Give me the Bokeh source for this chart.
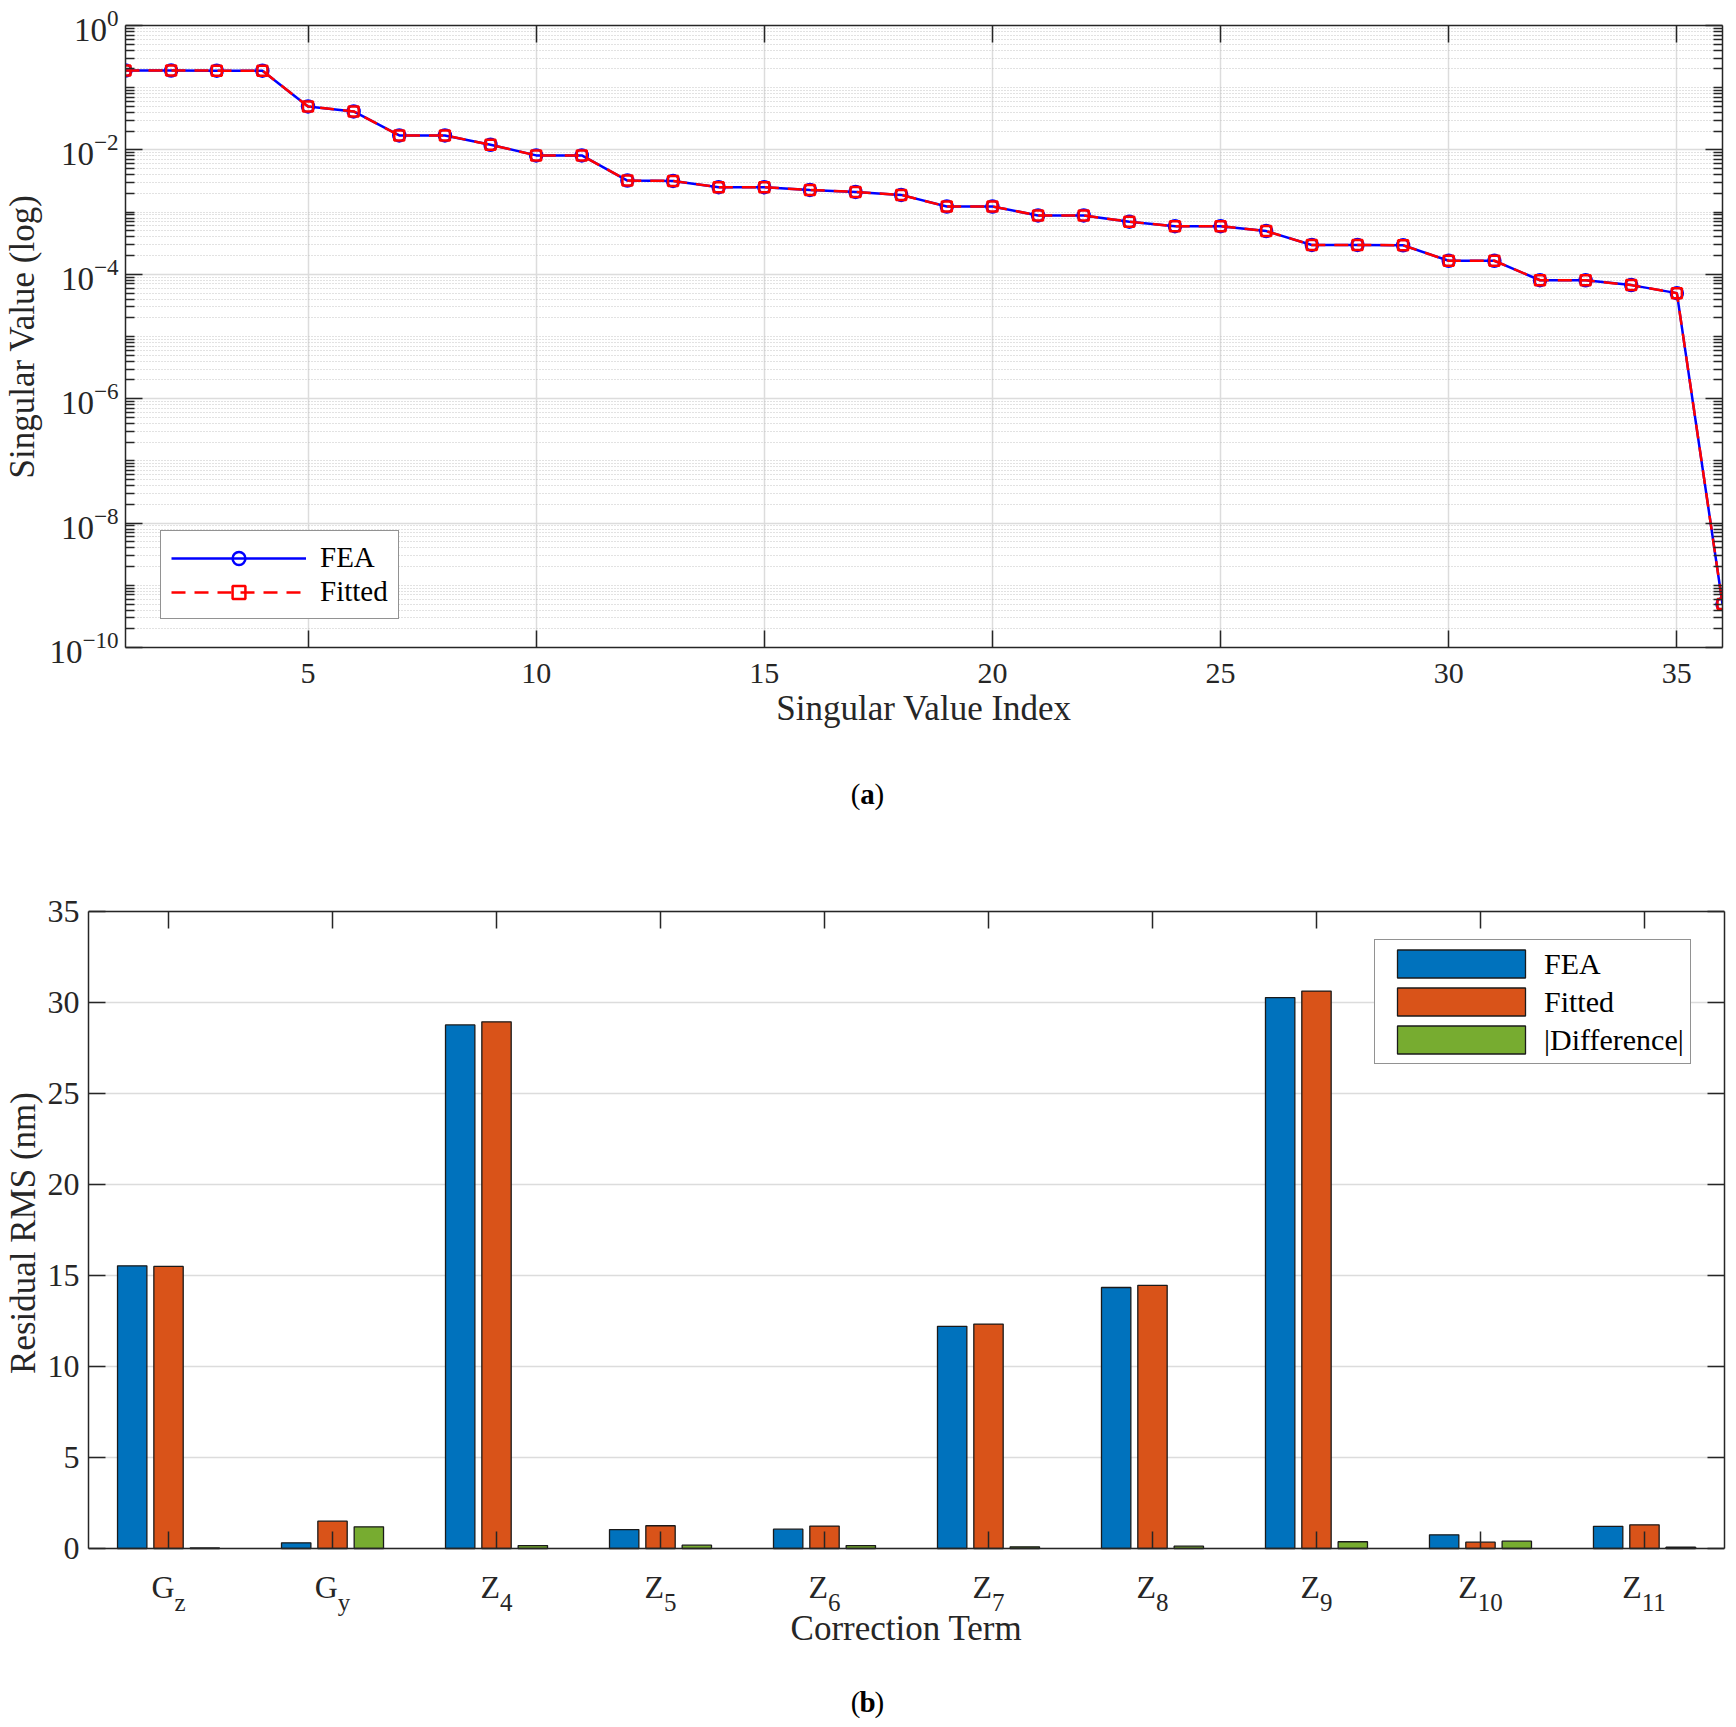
import numpy as np
from bokeh.plotting import figure
from bokeh.models import (Range1d, FixedTicker, LinearAxis, LogAxis, Legend,
                          LegendItem, ColumnDataSource)
from bokeh.core.properties import value
from bokeh.embed import file_html
from bokeh.resources import INLINE

# ---------------- data (a) ----------------
sv_index = list(range(1, 37))
sv_fea = [0.189, 0.189, 0.188, 0.188, 0.0500, 0.0416, 0.0171, 0.0171, 0.0121,
          0.00816, 0.00816, 0.00321, 0.00317, 0.00251, 0.00251, 0.00227,
          0.00211, 0.00189, 0.00123, 0.00123, 0.000884, 0.000884, 0.000701,
          0.000593, 0.000593, 0.000495, 0.000296, 0.000296, 0.000293,
          0.000165, 0.000165, 8.03e-5, 8.0e-5, 6.7e-5, 4.98e-5, 5.0e-10]
sv_fitted = [0.189, 0.189, 0.188, 0.188, 0.0500, 0.0416, 0.0171, 0.0171, 0.0121,
             0.00816, 0.00816, 0.00321, 0.00317, 0.00251, 0.00251, 0.00227,
             0.00211, 0.00189, 0.00123, 0.00123, 0.000884, 0.000884, 0.000701,
             0.000593, 0.000593, 0.000495, 0.000296, 0.000296, 0.000293,
             0.000165, 0.000165, 8.03e-5, 8.0e-5, 6.7e-5, 4.98e-5, 5.0e-10]
sv_xticks = [5, 10, 15, 20, 25, 30, 35]
sv_yticks = [1e-10, 1e-8, 1e-6, 1e-4, 1e-2, 1.0]

# ---------------- data (b) ----------------
term_main = ["G", "G", "Z", "Z", "Z", "Z", "Z", "Z", "Z", "Z"]
term_sub = ["z", "y", "4", "5", "6", "7", "8", "9", "10", "11"]
rms_fea = [15.53, 0.31, 28.77, 1.04, 1.06, 12.21, 14.34, 30.27, 0.75, 1.22]
rms_fitted = [15.50, 1.50, 28.94, 1.25, 1.23, 12.33, 14.46, 30.63, 0.35, 1.30]
rms_diff = [0.03, 1.19, 0.16, 0.18, 0.16, 0.09, 0.13, 0.37, 0.40, 0.07]
rms_yticks = [0, 5, 10, 15, 20, 25, 30, 35]
RMS_MIN, RMS_MAX = 0, 35

FONT = "Liberation Serif"
TXT = "#262626"
AX = "#262626"


def style_axis(ax, labels=True, size="30px"):
    ax.axis_line_color = AX
    ax.axis_line_width = 1.5
    ax.major_tick_line_color = AX
    ax.major_tick_line_width = 1.5
    ax.major_tick_in = 17
    ax.major_tick_out = 0
    ax.minor_tick_line_color = AX
    ax.minor_tick_line_width = 1.3
    ax.minor_tick_in = 9
    ax.minor_tick_out = 0
    ax.major_label_text_font = FONT
    ax.major_label_text_font_size = size
    ax.major_label_text_color = TXT
    ax.axis_label_text_font = FONT
    ax.axis_label_text_font_size = "35px"
    ax.axis_label_text_font_style = "normal"
    ax.axis_label_text_color = TXT
    if not labels:
        ax.major_label_text_color = None
        ax.major_label_text_font_size = "1px"
        ax.major_label_standoff = 0


# minor ticks for the log axis (2..9 x 10^n, plus the odd decades)
minor_log = []
for e in range(-10, 0):
    for k in range(1, 10):
        if k == 1 and e % 2 == 0:
            continue
        minor_log.append(k * 10.0 ** e)

# ================= figure (a) =================
P1_BOTTOM = 96
p1 = figure(frame_width=1597, frame_height=622, title=None,
            x_range=Range1d(1, 36), y_range=Range1d(1e-10, 1),
            y_axis_type="log", output_backend="svg", toolbar_location=None,
            min_border_left=124, min_border_right=10, min_border_top=25,
            min_border_bottom=P1_BOTTOM)
p1.outline_line_color = None
p1.background_fill_color = "white"
p1.border_fill_color = "white"

xt1 = FixedTicker(ticks=sv_xticks)
yt1 = FixedTicker(ticks=sv_yticks, minor_ticks=minor_log)
p1.xaxis[0].ticker = xt1
p1.yaxis[0].ticker = yt1
style_axis(p1.xaxis[0])
style_axis(p1.yaxis[0], size="33px")
p1.xaxis[0].minor_tick_line_color = None
p1.xaxis[0].major_label_standoff = 16
p1.xaxis[0].axis_label = "Singular Value Index"
p1.xaxis[0].axis_label_standoff = 3
p1.yaxis[0].major_label_standoff = 7
p1.yaxis[0].axis_label = "Singular Value (log)"
p1.yaxis[0].axis_label_standoff = 4

top1 = LinearAxis(ticker=xt1)
style_axis(top1, labels=False)
top1.minor_tick_line_color = None
p1.add_layout(top1, "above")
right1 = LogAxis(ticker=yt1)
style_axis(right1, labels=False)
p1.add_layout(right1, "right")

p1.xgrid.ticker = xt1
p1.ygrid.ticker = yt1
p1.xgrid.grid_line_color = "#dcdcdc"
p1.xgrid.grid_line_width = 1.5
p1.ygrid.grid_line_color = "#dcdcdc"
p1.ygrid.grid_line_width = 1.5
p1.ygrid.minor_grid_line_color = "#c4c4c4"
p1.ygrid.minor_grid_line_dash = "1 2"
p1.ygrid.minor_grid_line_width = 1

src1 = ColumnDataSource(dict(x=sv_index, fea=sv_fea, fit=sv_fitted))
l_fea = p1.line("x", "fea", source=src1, line_color="#0000ff", line_width=2.5)
m_fea = p1.scatter("x", "fea", source=src1, marker="circle", size=12,
                   fill_color=None, line_color="#0000ff", line_width=2.5)
l_fit = p1.line("x", "fit", source=src1, line_color="#ff0000", line_width=2.5,
                line_dash="14 9")
m_fit = p1.scatter("x", "fit", source=src1, marker="square", size=10,
                   fill_color=None, line_color="#ff0000", line_width=2.5)

leg1 = Legend(items=[LegendItem(label="FEA", renderers=[l_fea, m_fea]),
                     LegendItem(label="Fitted", renderers=[l_fit, m_fit])],
              location=(35, 28))
leg1.label_text_font = FONT
leg1.label_text_font_size = "29px"
leg1.label_text_color = "#000000"
leg1.border_line_color = AX
leg1.border_line_width = 1.5
leg1.background_fill_color = "white"
leg1.background_fill_alpha = 1
leg1.padding = 10
leg1.spacing = 1
leg1.margin = 0
leg1.glyph_width = 135
leg1.glyph_height = 32
leg1.label_height = 32
leg1.label_standoff = 14
p1.add_layout(leg1, "center")

H1 = 25 + 622 + P1_BOTTOM

# ================= figure (b) =================
# page layout (px): plot box of (b) runs from y=911 (35) to y=1548 (0)
Y35, Y0 = 911, 1548
PX_PER = (Y0 - Y35) / (RMS_MAX - RMS_MIN)
P2_TOP_BORDER = 2
FRAME_TOP = H1 + P2_TOP_BORDER
FRAME_BOT = 1720
y_hi = RMS_MAX + (Y35 - FRAME_TOP) / PX_PER
y_lo = RMS_MIN - (FRAME_BOT - Y0) / PX_PER


def page_to_y(py):
    return RMS_MIN - (py - Y0) / PX_PER


pos = np.arange(1, len(term_main) + 1)
XR2 = (0.512, 10.488)
FW2 = 1636
p2 = figure(frame_width=FW2, frame_height=FRAME_BOT - FRAME_TOP, title=None,
            x_range=Range1d(*XR2), y_range=Range1d(y_lo, y_hi),
            output_backend="svg", toolbar_location=None,
            min_border_left=86, min_border_right=10,
            min_border_top=P2_TOP_BORDER, min_border_bottom=4)
p2.outline_line_color = None
p2.background_fill_color = "white"
p2.border_fill_color = "white"

xt2 = FixedTicker(ticks=list(pos))
yt2 = FixedTicker(ticks=rms_yticks)
p2.xaxis[0].ticker = xt2
p2.xaxis[0].fixed_location = RMS_MIN
style_axis(p2.xaxis[0], labels=False)
p2.yaxis[0].ticker = yt2
p2.yaxis[0].bounds = (RMS_MIN, RMS_MAX)
style_axis(p2.yaxis[0], size="32px")
p2.yaxis[0].major_label_standoff = 9
p2.yaxis[0].axis_label = "Residual RMS (nm)"
p2.yaxis[0].axis_label_standoff = 2

top2 = LinearAxis(ticker=xt2, fixed_location=RMS_MAX)
style_axis(top2, labels=False)
p2.add_layout(top2, "above")
right2 = LinearAxis(ticker=yt2, bounds=(RMS_MIN, RMS_MAX))
style_axis(right2, labels=False)
p2.add_layout(right2, "right")

p2.xgrid.grid_line_color = None
p2.ygrid.ticker = yt2
p2.ygrid.grid_line_color = "#dcdcdc"
p2.ygrid.grid_line_width = 1.5

off = 0.2215
bw = 0.179
src2 = ColumnDataSource(dict(x0=pos - off, x1=pos, x2=pos + off,
                             fea=rms_fea, fit=rms_fitted, diff=rms_diff))
b_fea = p2.vbar(x="x0", top="fea", width=bw, source=src2,
                fill_color="#0072BD", line_color="#1a1a1a", line_width=1.3)
b_fit = p2.vbar(x="x1", top="fit", width=bw, source=src2,
                fill_color="#D95319", line_color="#1a1a1a", line_width=1.3)
b_dif = p2.vbar(x="x2", top="diff", width=bw, source=src2,
                fill_color="#77AC30", line_color="#1a1a1a", line_width=1.3)

leg2 = Legend(items=[LegendItem(label="FEA", renderers=[b_fea]),
                     LegendItem(label="Fitted", renderers=[b_fit]),
                     LegendItem(label="|Difference|", renderers=[b_dif])],
              location=(1286, FRAME_BOT - 1064))
leg2.label_text_font = FONT
leg2.label_text_font_size = "30px"
leg2.label_text_color = "#000000"
leg2.border_line_color = AX
leg2.border_line_width = 1.5
leg2.background_fill_color = "white"
leg2.background_fill_alpha = 1
leg2.padding = 6
leg2.spacing = 3
leg2.margin = 0
leg2.glyph_width = 160
leg2.glyph_height = 35
leg2.label_height = 35
leg2.label_standoff = 3
p2.add_layout(leg2, "center")

# category tick labels with subscripts
MAIN_PX, SUB_PX = 32, 25
adv_main = {"G": 0.722, "Z": 0.611}
adv_sub = {"z": 0.444, "y": 0.5}
main_off, sub_off = [], []
for m, s in zip(term_main, term_sub):
    wm = adv_main[m] * MAIN_PX
    ws = sum(adv_sub.get(ch, 0.5) for ch in s) * SUB_PX
    main_off.append(-(wm + ws) / 2)
    sub_off.append(-(wm + ws) / 2 + wm)
src3 = ColumnDataSource(dict(x=pos, main=term_main, sub=term_sub,
                             mo=main_off, so=sub_off,
                             ym=[page_to_y(1586)] * len(pos),
                             ys=[page_to_y(1602)] * len(pos)))
p2.text(x="x", y="ym", text="main", x_offset="mo", source=src3,
        text_font=value(FONT), text_font_size=value(f"{MAIN_PX}px"),
        text_align="left", text_baseline="alphabetic", text_color=TXT)
p2.text(x="x", y="ys", text="sub", x_offset="so", source=src3,
        text_font=value(FONT), text_font_size=value(f"{SUB_PX}px"),
        text_align="left", text_baseline="alphabetic", text_color=TXT)

xmid = (XR2[0] + XR2[1]) / 2
p2.text(x=[xmid], y=[page_to_y(1628)], text=["Correction Term"],
        text_font=value(FONT), text_font_size=value("35px"),
        text_align="center", text_baseline="middle", text_color=TXT)

# captions (a) and (b)
cap_x = XR2[0] + (865 - 86) / FW2 * (XR2[1] - XR2[0])
for letter, py in [("a", 793), ("b", 1701)]:
    cy = page_to_y(py)
    p2.text(x=[cap_x], y=[cy], text=["("], x_offset=-7,
            text_font=value(FONT), text_font_size=value("29px"),
            text_align="right", text_baseline="middle", text_color="#000000")
    p2.text(x=[cap_x], y=[cy], text=[letter],
            text_font=value(FONT), text_font_size=value("29px"),
            text_font_style=value("bold"),
            text_align="center", text_baseline="middle", text_color="#000000")
    p2.text(x=[cap_x], y=[cy], text=[")"], x_offset=7,
            text_font=value(FONT), text_font_size=value("29px"),
            text_align="left", text_baseline="middle", text_color="#000000")

open("out.html", "w").write(file_html([p1, p2], INLINE))
